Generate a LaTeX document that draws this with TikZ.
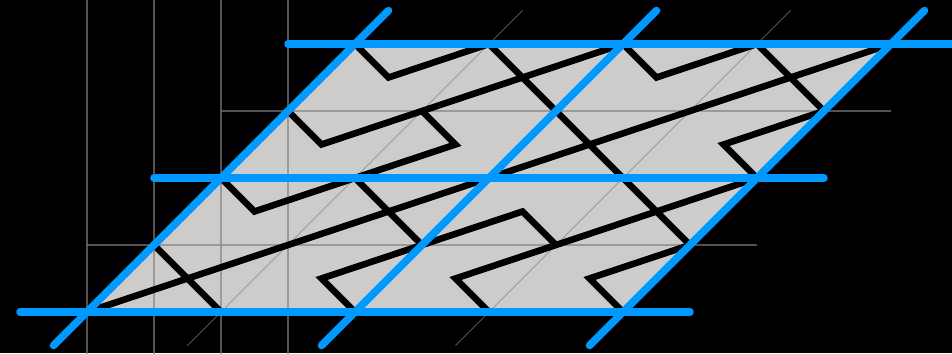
\documentclass[tikz,border=0pt]{standalone}
\usepackage{xcolor}
\usepackage{tikz}
\definecolor{edgeblue}{RGB}{0,153,255}
\definecolor{tilegray}{RGB}{204,204,204}

\begin{document}
\begin{tikzpicture}[
  gridline/.style={gray, opacity=0.65, line width=0.6pt},
  diagline/.style={gray, opacity=0.65, line width=0.4pt},
  edge/.style={edgeblue, line width=3.2pt, line cap=round},
  strand/.style={black, line width=2.8pt}]
\useasboundingbox (-1.2985,-0.6119) rectangle (12.9104,4.6567);
\fill[black] (-1.2985,-0.6119) rectangle (12.9104,4.6567);
\clip (-1.2985,-0.6119) rectangle (12.9104,4.6567);
\fill[tilegray] (0,0) -- (8,0) -- (12,4) -- (4,4) -- cycle;
\draw[gridline] (0,-1) -- (0,5);
\draw[gridline] (1,-1) -- (1,5);
\draw[gridline] (2,-1) -- (2,5);
\draw[gridline] (3,-1) -- (3,5);
\draw[gridline] (0,1) -- (10,1);
\draw[gridline] (2,3) -- (12,3);
\draw[diagline] (1.5,-0.5) -- (6.5,4.5);
\draw[diagline] (5.5,-0.5) -- (10.5,4.5);
\draw[strand] (0,0) -- (12,4);
\draw[strand] (1,1) -- (2,0);
\draw[strand] (2,2) -- (2.5,1.5) -- (5.5,2.5) -- (5,3);
\draw[strand] (4,2) -- (5,1);
\draw[strand] (4,0) -- (3.5,0.5) -- (6.5,1.5) -- (7,1);
\draw[strand] (3,3) -- (3.5,2.5) -- (8,4);
\draw[strand] (6,0) -- (5.5,0.5) -- (10,2);
\draw[strand] (8,0) -- (7.5,0.5) -- (9,1);
\draw[strand] (6,4) -- (9,1);
\draw[strand] (4,4) -- (4.5,3.5) -- (6,4);
\draw[strand] (8,4) -- (8.5,3.5) -- (10,4) -- (11,3) -- (9.5,2.5) -- (10,2);
\draw[edge] (-1,0) -- (9,0);
\draw[edge] (1,2) -- (11,2);
\draw[edge] (3,4) -- (13,4);
\draw[edge] (-0.5,-0.5) -- (4.5,4.5);
\draw[edge] (3.5,-0.5) -- (8.5,4.5);
\draw[edge] (7.5,-0.5) -- (12.5,4.5);
\end{tikzpicture}
\end{document}
